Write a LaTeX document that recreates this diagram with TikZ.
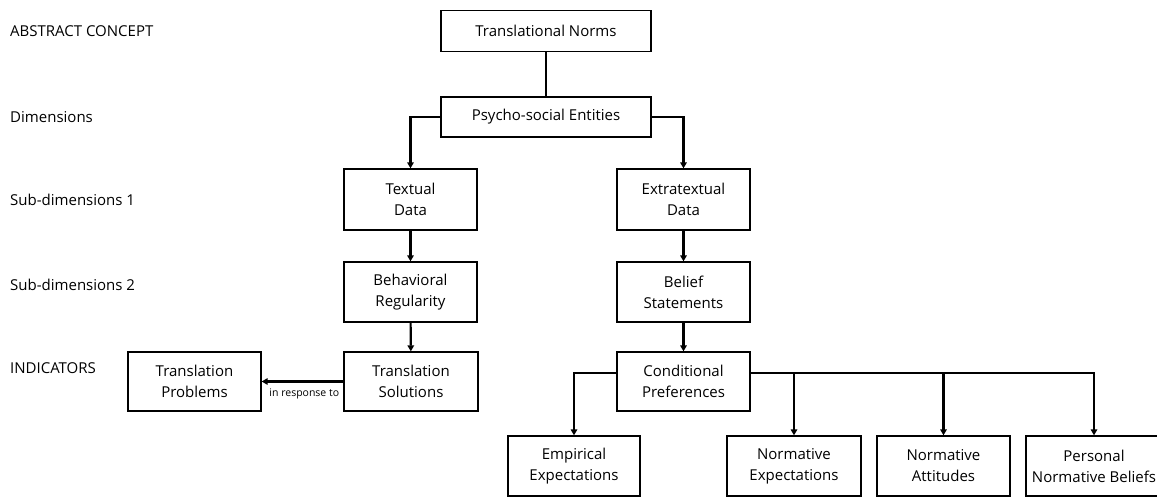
\documentclass[tikz,border=0pt]{standalone}
\usepackage{fontspec}
\setmainfont{Open Sans}
\usetikzlibrary{arrows.meta}
\begin{document}
\begin{tikzpicture}[x=1pt,y=-1pt,
  box/.style={draw, line width=1.3pt, align=center, inner sep=0pt,
    font=\fontsize{15}{21}\selectfont},
  link/.style={line width=2.1pt},
  conn/.style={link, -{Triangle[length=6pt,width=6.5pt]}},
  lvl/.style={anchor=west, inner sep=0pt, font=\fontsize{15}{17}\selectfont},
  note/.style={inner sep=0pt, font=\fontsize{10.5}{12}\selectfont}]
\useasboundingbox (0,0) rectangle (1157,497);
\fill[white] (0,0) rectangle (1157,497);

% level captions on the left
\node[lvl] (l1) at (10,31) {ABSTRACT CONCEPT};
\node[lvl] (l2) at (10,117) {Dimensions};
\node[lvl] (l3) at (10,200) {Sub-dimensions 1};
\node[lvl] (l4) at (10,285) {Sub-dimensions 2};
\node[lvl] (l5) at (10,368) {INDICATORS};

% hierarchy boxes
\node[box, minimum width=210pt, minimum height=41pt] (norms) at (546,31) {Translational Norms};
\node[box, minimum width=210pt, minimum height=40pt] (psycho) at (546,117) {Psycho-social Entities};
\node[box, minimum width=133pt, minimum height=61pt] (textual) at (410.5,199.5) {Textual\\Data};
\node[box, minimum width=133pt, minimum height=61pt] (extra) at (683.5,199.5) {Extratextual\\Data};
\node[box, minimum width=133pt, minimum height=60pt] (behav) at (410.5,292) {Behavioral\\Regularity};
\node[box, minimum width=133pt, minimum height=60pt] (belief) at (683.5,292) {Belief\\Statements};
\node[box, minimum width=134pt, minimum height=59pt] (sol) at (411,381.5) {Translation\\Solutions};
\node[box, minimum width=133pt, minimum height=59pt] (prob) at (194.5,381.5) {Translation\\Problems};
\node[box, minimum width=133pt, minimum height=59pt] (cond) at (683.5,381.5) {Conditional\\Preferences};
\node[box, minimum width=132pt, minimum height=60pt] (emp) at (574,466) {Empirical\\Expectations};
\node[box, minimum width=134pt, minimum height=60pt] (nexp) at (794,466) {Normative\\Expectations};
\node[box, minimum width=133pt, minimum height=60pt] (natt) at (943.5,466) {Normative\\Attitudes};
\node[box, minimum width=136pt, minimum height=60pt] (pers) at (1094,466) {Personal\\Normative Beliefs};

% connectors
\draw[link] (norms) -- (psycho);
\draw[conn] (psycho.west) -| (textual.north);
\draw[conn] (psycho.east) -| (extra.north);
\draw[conn] (textual) -- (behav);
\draw[conn] (behav) -- (sol);
\draw[conn] (extra) -- (belief);
\draw[conn] (belief) -- (cond);
\draw[conn] (sol.west) -- (prob.east);
\node[note, anchor=east] (resp) at ([xshift=-4pt,yshift=-12.5pt]sol.west) {in response to};

\coordinate (cl) at ([yshift=8.5pt]cond.west);
\coordinate (cr) at ([yshift=8.5pt]cond.east);
\draw[conn] (cl) -| (emp.north);
\draw[conn] (cr) -| (pers.north);
\draw[conn] (cr -| nexp.north) -- (nexp.north);
\draw[conn] (cr -| natt.north) -- (natt.north);
\end{tikzpicture}
\end{document}
